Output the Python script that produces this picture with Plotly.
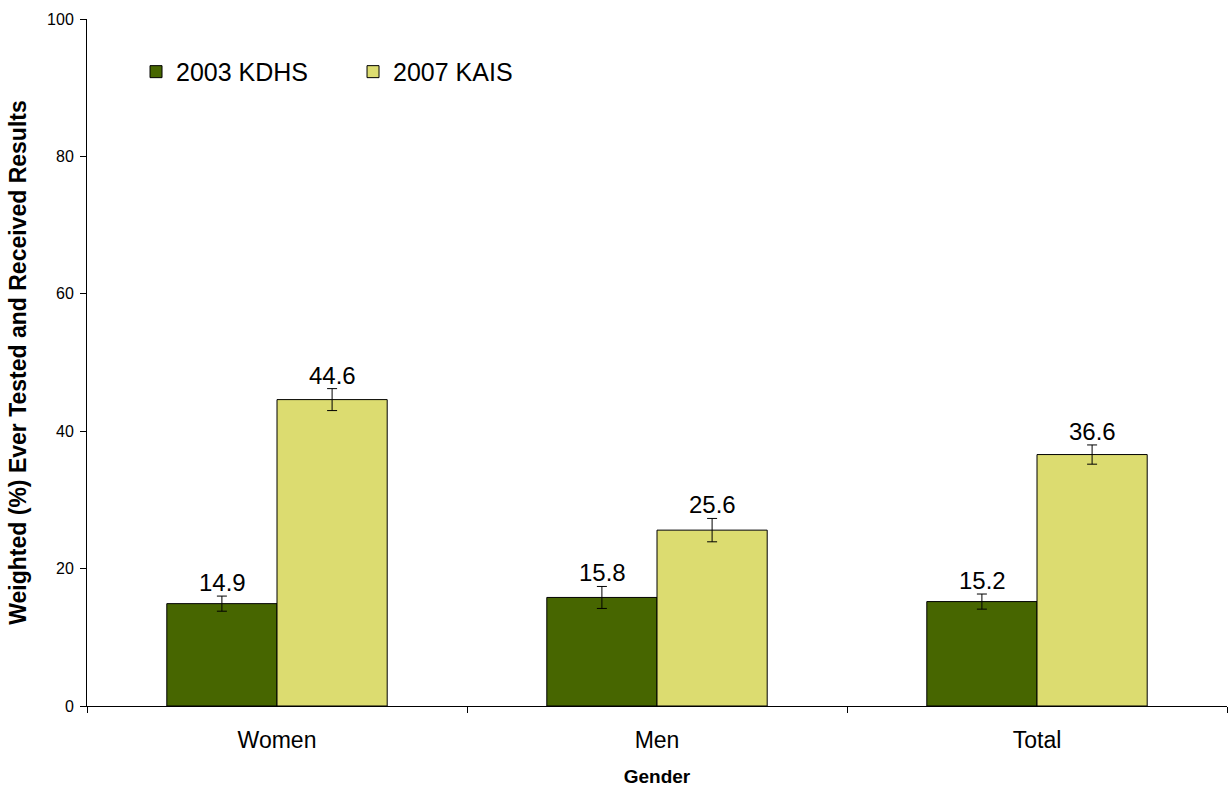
import plotly.graph_objects as go

categories = ["Women", "Men", "Total"]
kdhs_2003 = [14.9, 15.8, 15.2]
kais_2007 = [44.6, 25.6, 36.6]
err_2003 = [1.1, 1.6, 1.1]
err_2007 = [1.6, 1.7, 1.4]

dark = "#476600"
light = "#DCDC70"
font = "Liberation Sans, Arial, sans-serif"

fig = go.Figure()
fig.add_trace(go.Bar(
    x=categories, y=kdhs_2003, name="2003 KDHS",
    marker=dict(color=dark, line=dict(color="black", width=1)),
    error_y=dict(type="data", array=err_2003, color="black", thickness=1, width=5),
))
fig.add_trace(go.Bar(
    x=categories, y=kais_2007, name="2007 KAIS",
    marker=dict(color=light, line=dict(color="black", width=1)),
    error_y=dict(type="data", array=err_2007, color="black", thickness=1, width=5),
))

# value labels sit above the error bars
for vals, errs, shift in [(kdhs_2003, err_2003, -55), (kais_2007, err_2007, 55)]:
    for c, v, e in zip(categories, vals, errs):
        fig.add_annotation(x=c, y=v + e, text=f"{v:.1f}", xshift=shift, yshift=-2,
                           yanchor="bottom", showarrow=False,
                           font=dict(size=24, color="black", family=font))

fig.update_layout(
    width=1230, height=787,
    paper_bgcolor="white", plot_bgcolor="white",
    margin=dict(l=87, r=3, t=19, b=81),
    barmode="group", bargap=0.42, bargroupgap=0,
    font=dict(family=font, color="black"),
    legend=dict(orientation="h", x=0.043, y=0.923, xanchor="left", yanchor="middle",
                font=dict(size=25), entrywidth=172, entrywidthmode="pixels",
                bgcolor="rgba(0,0,0,0)"),
    xaxis=dict(
        automargin=False,
        showline=True, linecolor="black", linewidth=1,
        ticks="outside", tickson="boundaries", ticklen=6, tickcolor="black",
        tickfont=dict(size=23), ticklabelstandoff=13,
        title=dict(text="<b>Gender</b>", font=dict(size=19), standoff=19),
    ),
    yaxis=dict(
        automargin=False,
        range=[0, 100], tickvals=[0, 20, 40, 60, 80, 100],
        showline=True, linecolor="black", linewidth=1, showgrid=False, zeroline=False,
        ticks="outside", ticklen=6, tickcolor="black",
        tickfont=dict(size=16), ticklabelstandoff=3,
        title=dict(text="<b>Weighted (%) Ever Tested and Received Results</b>",
                   font=dict(size=23), standoff=14),
    ),
)

fig.write_html("out.html", config={"displayModeBar": False},
               post_script="document.body.style.margin='0';")
